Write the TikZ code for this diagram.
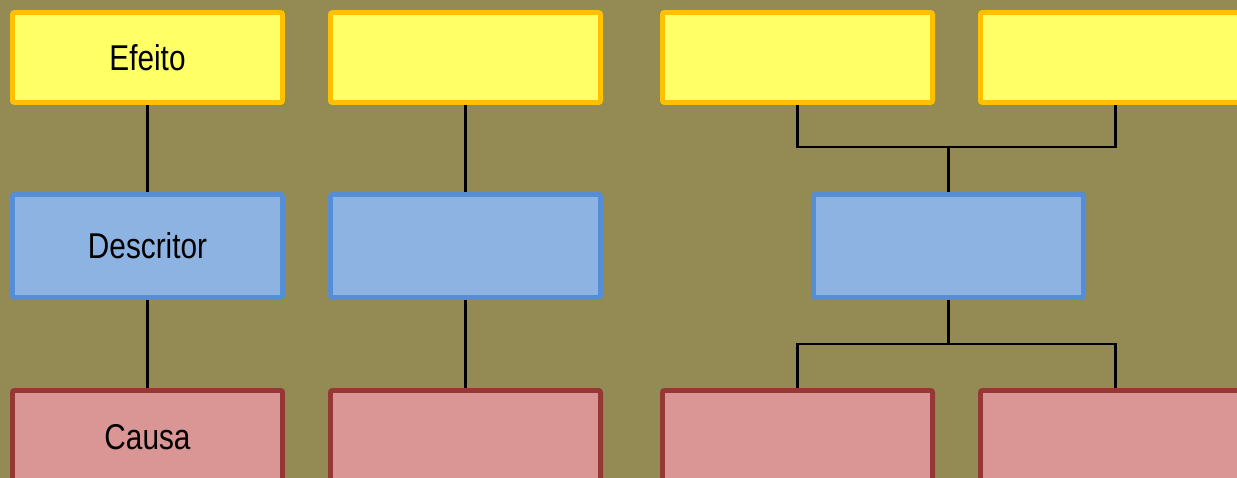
\documentclass[tikz,border=0pt]{standalone}
\usepackage{fontspec}
\setmainfont[FakeStretch=0.83]{Liberation Sans}
\definecolor{olivebg}{RGB}{148,138,84}
\definecolor{efeitofill}{RGB}{255,255,102}
\definecolor{efeitoline}{RGB}{255,192,0}
\definecolor{descfill}{RGB}{141,179,226}
\definecolor{descline}{RGB}{85,142,213}
\definecolor{causafill}{RGB}{217,150,148}
\definecolor{causaline}{RGB}{149,55,53}
\tikzset{
  mbox/.style     = {rounded corners=1.5pt, line width=3.5pt, align=center,
                     font=\fontsize{25.5}{30}\selectfont, text=black,
                     minimum width=6.75cm, inner sep=0pt},
  efbox/.style    = {mbox, draw=efeitoline, fill=efeitofill, minimum height=2.25cm},
  descbox/.style  = {mbox, draw=descline, fill=descfill, minimum height=2.575cm},
  % text sits a little above the middle, since the box runs off the page
  causabox/.style = {mbox, draw=causaline, fill=causafill, minimum height=2.575cm,
                     text depth=0.25cm},
  link/.style     = {draw=black, line width=1.5pt},
}
\begin{document}
\begin{tikzpicture}[x=0.025cm, y=-0.025cm]

    \clip (0,0) rectangle (1237,478);
    \fill[olivebg] (0,0) rectangle (1237,478);

    % top row
    \node[efbox] (e1) at (147.5, 57.5) {Efeito};
    \node[efbox] (e2) at (465.5, 57.5) {};
    \node[efbox] (e3) at (797.5, 57.5) {};
    \node[efbox] (e4) at (1115.5, 57.5) {};

    % middle row
    \node[descbox] (d1) at (147.5, 246) {Descritor};
    \node[descbox] (d2) at (465.5, 246) {};
    \node[descbox] (d3) at (948.5, 246) {};

    % bottom row (cut by the page edge)
    \node[causabox] (c1) at (147.5, 442) {Causa};
    \node[causabox] (c2) at (465.5, 442) {};
    \node[causabox] (c3) at (797.5, 442) {};
    \node[causabox] (c4) at (1115.5, 442) {};

    \coordinate (jtop) at (948.5, 147);
    \coordinate (jbot) at (948.5, 344);

    \draw[link] (e1) -- (d1);
    \draw[link] (d1) -- (c1);
    \draw[link] (e2) -- (d2);
    \draw[link] (d2) -- (c2);

    \draw[link] (e3.south) |- (jtop) -| (e4.south);
    \draw[link] (jtop) -- (d3.north);
    \draw[link] (d3.south) -- (jbot);
    \draw[link] (c3.north) |- (jbot) -| (c4.north);
  \end{tikzpicture}
\end{document}
